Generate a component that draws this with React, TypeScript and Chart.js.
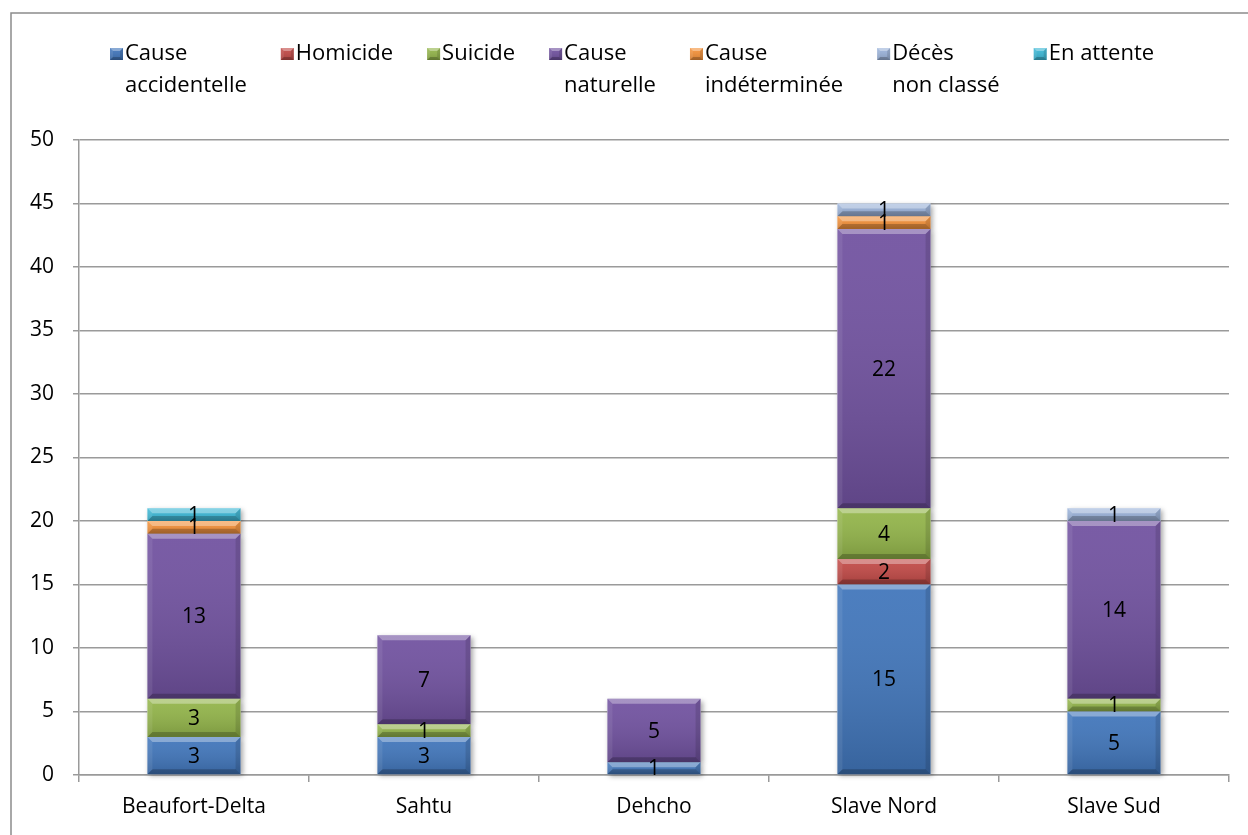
import React, { useEffect, useRef } from 'react';
import { Chart, registerables } from 'chart.js';

Chart.register(...registerables);

// ---- data ----
const categories = ['Beaufort-Delta', 'Sahtu', 'Dehcho', 'Slave Nord', 'Slave Sud'];
const seriesLabels: string[][] = [
  ['Cause', 'accidentelle'],
  ['Homicide'],
  ['Suicide'],
  ['Cause', 'naturelle'],
  ['Cause', 'indéterminée'],
  ['Décès', 'non classé'],
  ['En attente'],
];
const causeAccidentelle = [3, 3, 1, 15, 5];
const homicide = [0, 0, 0, 2, 0];
const suicide = [3, 1, 0, 4, 1];
const causeNaturelle = [13, 7, 5, 22, 14];
const causeIndeterminee = [1, 0, 0, 1, 0];
const decesNonClasse = [0, 0, 0, 1, 1];
const enAttente = [1, 0, 0, 0, 0];
const yMin = 0;
const yMax = 50;
const yStep = 5;

const seriesValues = [
  causeAccidentelle,
  homicide,
  suicide,
  causeNaturelle,
  causeIndeterminee,
  decesNonClasse,
  enAttente,
];
const seriesColors = ['#4176bb', '#c24a47', '#93b54a', '#7152a0', '#f5923a', '#9bb3da', '#3cb8d6'];

const FONT = '"Open Sans", "Noto Sans", sans-serif';
const GRID = '#9a9a9a';

function bevelRect(ctx: CanvasRenderingContext2D, l: number, t: number, r: number, b: number, size: number) {
  const w = r - l;
  const h = b - t;
  const s = Math.max(0, Math.min(size, h / 2, w / 2));
  const g = ctx.createLinearGradient(0, t, 0, b);
  g.addColorStop(0, 'rgba(255,255,255,0.06)');
  g.addColorStop(1, 'rgba(0,0,0,0.16)');
  ctx.fillStyle = g;
  ctx.fillRect(l, t, w, h);
  if (s <= 0) return;
  const poly = (pts: number[][], fill: string) => {
    ctx.beginPath();
    ctx.moveTo(pts[0][0], pts[0][1]);
    for (let i = 1; i < pts.length; i++) ctx.lineTo(pts[i][0], pts[i][1]);
    ctx.closePath();
    ctx.fillStyle = fill;
    ctx.fill();
  };
  poly([[l, t], [r, t], [r - s, t + s], [l + s, t + s]], 'rgba(255,255,255,0.34)');
  poly([[l, b], [r, b], [r - s, b - s], [l + s, b - s]], 'rgba(0,0,0,0.22)');
  poly([[l, t], [l + s, t + s], [l + s, b - s], [l, b]], 'rgba(255,255,255,0.08)');
  poly([[r, t], [r - s, t + s], [r - s, b - s], [r, b]], 'rgba(0,0,0,0.12)');
}

const framePlugin = {
  id: 'frame',
  beforeDraw(chart: any) {
    const ctx = chart.ctx as CanvasRenderingContext2D;
    ctx.save();
    ctx.fillStyle = '#ffffff';
    ctx.fillRect(0, 0, chart.width, chart.height);
    ctx.strokeStyle = '#8c8c8c';
    ctx.lineWidth = 1.5;
    ctx.strokeRect(11, 13, chart.width + 20, chart.height + 20);
    ctx.restore();
  },
};

const shadowPlugin = {
  id: 'barShadow',
  beforeDatasetsDraw(chart: any) {
    const ctx = chart.ctx as CanvasRenderingContext2D;
    ctx.save();
    ctx.shadowColor = 'rgba(0,0,0,0.35)';
    ctx.shadowBlur = 5;
    ctx.shadowOffsetX = 2;
    ctx.shadowOffsetY = 2;
    chart.getSortedVisibleDatasetMetas().forEach((meta: any) => {
      meta.data.forEach((el: any) => {
        const top = Math.min(el.y, el.base);
        const bot = Math.max(el.y, el.base);
        if (bot - top < 0.5) return;
        ctx.fillStyle = 'rgba(255,255,255,1)';
        ctx.fillRect(el.x - el.width / 2, top, el.width, bot - top);
      });
    });
    ctx.restore();
  },
};

const bevelLabelPlugin = {
  id: 'bevelLabels',
  afterDatasetsDraw(chart: any) {
    const ctx = chart.ctx as CanvasRenderingContext2D;
    ctx.save();
    const metas = chart.getSortedVisibleDatasetMetas();
    metas.forEach((meta: any) => {
      meta.data.forEach((el: any) => {
        const top = Math.min(el.y, el.base);
        const bot = Math.max(el.y, el.base);
        if (bot - top < 0.5) return;
        bevelRect(ctx, el.x - el.width / 2, top, el.x + el.width / 2, bot, 5);
      });
    });
    ctx.fillStyle = '#000000';
    ctx.font = `21px ${FONT}`;
    ctx.textAlign = 'center';
    ctx.textBaseline = 'middle';
    metas.forEach((meta: any) => {
      const ds = chart.data.datasets[meta.index];
      meta.data.forEach((el: any, i: number) => {
        const v = ds.data[i];
        if (!v) return;
        ctx.fillText(String(v), el.x, (el.y + el.base) / 2 + 1);
      });
    });
    ctx.restore();
  },
};

const legendPlugin = {
  id: 'customLegend',
  afterDraw(chart: any) {
    const ctx = chart.ctx as CanvasRenderingContext2D;
    ctx.save();
    ctx.font = `22px ${FONT}`;
    ctx.textBaseline = 'middle';
    ctx.textAlign = 'left';
    let x = 110;
    const y0 = 54;
    const lineH = 32;
    chart.data.datasets.forEach((ds: any, i: number) => {
      const lines: string[] = seriesLabels[i];
      ctx.fillStyle = ds.backgroundColor;
      ctx.fillRect(x, y0 - 6, 13, 12);
      bevelRect(ctx, x, y0 - 6, x + 13, y0 + 6, 3);
      ctx.fillStyle = '#000000';
      let maxW = 0;
      lines.forEach((ln, k) => {
        ctx.fillText(ln, x + 15, y0 + k * lineH);
        maxW = Math.max(maxW, ctx.measureText(ln).width);
      });
      x += 15 + maxW + 34;
    });
    ctx.restore();
  },
};

export default function App() {
  const ref = useRef<HTMLCanvasElement | null>(null);
  useEffect(() => {
    if (!ref.current) return;
    const chart = new Chart(ref.current, {
      type: 'bar',
      data: {
        labels: categories,
        datasets: seriesValues.map((vals, i) => ({
          label: seriesLabels[i].join(' '),
          data: vals,
          backgroundColor: seriesColors[i],
          borderWidth: 0,
          categoryPercentage: 1,
          barPercentage: 0.405,
        })),
      },
      options: {
        responsive: false,
        animation: false,
        layout: { padding: { top: 140, right: 19, left: 0, bottom: 0 } },
        plugins: {
          legend: { display: false },
          tooltip: { enabled: false },
          title: { display: false },
        },
        scales: {
          x: {
            stacked: true,
            grid: {
              display: true,
              drawOnChartArea: false,
              drawTicks: true,
              tickLength: 7,
              color: GRID,
              lineWidth: 1.5,
              offset: true,
            },
            border: { display: true, color: GRID, width: 1.5 },
            ticks: { color: '#000000', font: { family: FONT, size: 21 }, padding: 12 },
            afterFit(scale: any) {
              scale.height = 60;
            },
          },
          y: {
            stacked: true,
            min: yMin,
            max: yMax,
            ticks: {
              stepSize: yStep,
              color: '#000000',
              font: { family: FONT, size: 21 },
              padding: 19,
            },
            grid: { color: GRID, lineWidth: 1.5, tickLength: 6, drawTicks: true },
            border: { display: true, color: GRID, width: 1.5 },
            afterFit(scale: any) {
              scale.width = 79;
            },
          },
        },
      },
      plugins: [framePlugin, shadowPlugin, bevelLabelPlugin, legendPlugin],
    });
    return () => chart.destroy();
  }, []);
  return (
    <div style={{ position: 'fixed', left: 0, top: 0, width: 1248, height: 835 }}>
      <canvas ref={ref} width={1248} height={835} style={{ display: 'block', width: 1248, height: 835 }} />
    </div>
  );
}
